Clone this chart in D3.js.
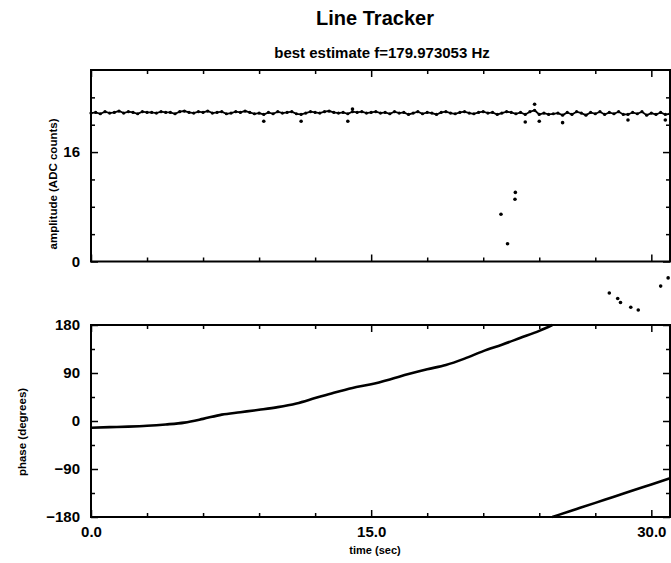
<!DOCTYPE html>
<html>

<head>
    <script src="https://d3js.org/d3.v7.min.js"></script>
    <style>
        body { margin: 0; background: #fff; }
        text { font-family: "Liberation Sans", Arial, sans-serif; font-weight: bold; fill: #000; }
    </style>
</head>

<body>
    <div id="my_dataviz"></div>

    <script>
        // amplitude samples, one every 0.25 s starting at t = 0
        const ampStep = 0.25;
        const ampValues = [
            21.7, 21.8, 21.6, 21.9, 21.7, 21.8, 22.0, 21.7, 21.9, 21.8,
            21.6, 21.9, 21.8, 21.8, 21.7, 21.9, 21.8, 21.8, 21.6, 21.9,
            22.0, 21.8, 21.7, 21.9, 21.8, 22.0, 21.7, 21.8, 21.9, 21.6,
            21.7, 21.9, 21.8, 22.0, 21.8, 21.6, 21.7, 21.5, 21.8, 21.6,
            21.9, 21.7, 21.8, 21.9, 21.6, 21.5, 21.7, 21.9, 21.8, 21.7,
            21.9, 22.0, 21.8, 21.7, 21.8, 21.6, 21.9, 21.8, 21.9, 21.7,
            21.8, 21.9, 21.7, 21.8, 21.6, 21.9, 21.7, 21.8, 21.5, 21.7,
            21.9, 21.6, 21.8, 21.7, 21.5, 21.8, 21.9, 21.7, 21.6, 21.8,
            21.9, 21.7, 21.6, 21.8, 21.9, 21.7, 21.8, 21.5, 21.7, 21.9,
            21.8, 21.6, 21.8, 21.5, 21.9, 22.1, 21.5, 21.7, 21.5, 21.6,
            21.7, 21.4, 21.8, 21.5, 21.9, 21.7, 21.4, 21.8, 21.6, 21.9,
            21.5, 21.8, 21.6, 21.9, 21.5, 21.5, 21.8, 21.6, 21.9, 21.4,
            21.7, 21.5, 21.8, 21.5, 21.6
        ];

        // single samples that sit off the trace
        const dropTime = [9.25, 11.25, 13.75, 14.0, 23.25, 23.75, 24.0, 25.25, 28.75, 30.75];
        const dropAmp = [20.5, 20.5, 20.5, 22.3, 20.4, 23.0, 20.5, 20.3, 20.7, 20.7];

        // isolated amplitude points (dropouts near 22 s)
        const glitchTime = [21.95, 22.3, 22.7, 22.72];
        const glitchAmp = [6.9, 2.6, 9.1, 10.1];

        // stray points that fall below the amplitude axis
        const strayTime = [27.75, 28.2, 28.35, 28.9, 29.3, 30.5, 30.9];
        const strayAmp = [-4.6, -5.4, -6.0, -6.7, -7.1, -3.6, -2.4];

        // phase, before and after wrapping through 180 degrees
        const phaseTimeA = [0, 1, 2, 3, 4, 5, 6, 7, 8, 9, 10, 11, 12, 13, 14, 15, 16, 17, 18, 19, 20, 21, 22, 23, 24, 24.7];
        const phaseDegA = [-12.6, -11.5, -10.5, -9, -6.5, -3, 4, 12, 16.5, 21, 26, 33, 43, 53, 62, 69, 78, 88, 97, 105, 117, 131, 143, 156, 169, 180];
        const phaseTimeB = [24.7, 25, 26, 27, 28, 29, 30, 31];
        const phaseDegB = [-180, -176.5, -165, -153.5, -142, -130.5, -119, -107.5];

        // tick values
        const timeMajor = [0, 15, 30];
        const timeMinor = [3, 6, 9, 12, 18, 21, 24, 27];
        const ampMajor = [0, 16];
        const ampMinor = [4, 8, 12, 20, 24];
        const phaseMajor = [-180, -90, 0, 90, 180];
        const phaseMinor = [-135, -45, 45, 135];

        const W = 671, H = 563;
        const left = 91, right = 670;
        const top1 = 70, bottom1 = 261.5;
        const top2 = 325, bottom2 = 517;

        const svg = d3.select("#my_dataviz")
            .append("svg")
            .attr("width", W)
            .attr("height", H);

        const x = d3.scaleLinear().domain([0, 31]).range([left, right]);
        const yAmp = d3.scaleLinear().domain([0, 28]).range([bottom1, top1]);
        const yPh = d3.scaleLinear().domain([-180, 180]).range([bottom2, top2]);

        // titles
        svg.append("text")
            .attr("x", 375).attr("y", 25)
            .attr("text-anchor", "middle")
            .style("font-size", "20px")
            .text("Line Tracker");

        svg.append("text")
            .attr("x", 382).attr("y", 58)
            .attr("text-anchor", "middle")
            .style("font-size", "15px")
            .text("best estimate f=179.973053 Hz");

        // draws the frame and inward ticks of one panel
        function frame(y, top, bottom, major, minor, labels) {
            const g = svg.append("g");
            const tickStyle = sel => {
                sel.select(".domain").remove();
                sel.selectAll("line").attr("stroke", "#000").attr("stroke-width", 1.5);
            };
            // bottom and top ticks
            g.append("g").attr("transform", `translate(0,${bottom})`)
                .call(d3.axisBottom(x).tickValues(timeMinor).tickSize(-4).tickFormat(""))
                .call(tickStyle);
            const xb = g.append("g").attr("transform", `translate(0,${bottom})`)
                .call(d3.axisBottom(x).tickValues(timeMajor).tickSize(-7).tickPadding(9)
                    .tickFormat(labels ? d3.format(".1f") : ""))
                .call(tickStyle);
            xb.selectAll("text").style("font-size", "15px");
            g.append("g").attr("transform", `translate(0,${top})`)
                .call(d3.axisTop(x).tickValues(timeMinor).tickSize(-4).tickFormat(""))
                .call(tickStyle);
            g.append("g").attr("transform", `translate(0,${top})`)
                .call(d3.axisTop(x).tickValues(timeMajor).tickSize(-7).tickFormat(""))
                .call(tickStyle);
            // left and right ticks
            g.append("g").attr("transform", `translate(${left},0)`)
                .call(d3.axisLeft(y).tickValues(minor).tickSize(-4).tickFormat(""))
                .call(tickStyle);
            const yl = g.append("g").attr("transform", `translate(${left},0)`)
                .call(d3.axisLeft(y).tickValues(major).tickSize(-7).tickPadding(11)
                    .tickFormat(d => d < 0 ? "\u2212" + Math.abs(d) : d))
                .call(tickStyle);
            yl.selectAll("text").style("font-size", "15px");
            g.append("g").attr("transform", `translate(${right},0)`)
                .call(d3.axisRight(y).tickValues(minor).tickSize(-4).tickFormat(""))
                .call(tickStyle);
            g.append("g").attr("transform", `translate(${right},0)`)
                .call(d3.axisRight(y).tickValues(major).tickSize(-7).tickFormat(""))
                .call(tickStyle);
            // box
            g.append("rect")
                .attr("x", left).attr("y", top)
                .attr("width", right - left).attr("height", bottom - top)
                .attr("fill", "none")
                .attr("stroke", "#000")
                .attr("stroke-width", 2);
        }

        frame(yAmp, top1, bottom1, ampMajor, ampMinor, false);
        frame(yPh, top2, bottom2, phaseMajor, phaseMinor, true);

        // axis titles
        svg.append("text")
            .attr("transform", "translate(57,184) rotate(-90)")
            .attr("text-anchor", "middle")
            .style("font-size", "11.5px")
            .text("amplitude (ADC counts)");

        svg.append("text")
            .attr("transform", "translate(26,432) rotate(-90)")
            .attr("text-anchor", "middle")
            .style("font-size", "11.5px")
            .text("phase (degrees)");

        svg.append("text")
            .attr("x", 375).attr("y", 554)
            .attr("text-anchor", "middle")
            .style("font-size", "11px")
            .text("time (sec)");

        // amplitude trace
        const ampData = ampValues.map((v, i) => ({ t: i * ampStep, v: v }));

        svg.append("path")
            .datum(ampData)
            .attr("fill", "none")
            .attr("stroke", "#000")
            .attr("stroke-width", 1.8)
            .attr("d", d3.line()
                .x(d => x(d.t))
                .y(d => yAmp(d.v)));

        svg.append("g")
            .selectAll("circle")
            .data(ampData)
            .join("circle")
            .attr("cx", d => x(d.t))
            .attr("cy", d => yAmp(d.v))
            .attr("r", 1.6)
            .attr("fill", "#000");

        const loose = dropTime.map((t, i) => ({ t: t, v: dropAmp[i] }))
            .concat(glitchTime.map((t, i) => ({ t: t, v: glitchAmp[i] })))
            .concat(strayTime.map((t, i) => ({ t: t, v: strayAmp[i] })));

        svg.append("g")
            .selectAll("circle")
            .data(loose)
            .join("circle")
            .attr("cx", d => x(d.t))
            .attr("cy", d => yAmp(d.v))
            .attr("r", 1.8)
            .attr("fill", "#000");

        // phase trace, one path per branch
        const phaseLine = d3.line()
            .x(d => x(d.t))
            .y(d => yPh(d.p))
            .curve(d3.curveMonotoneX);

        [[phaseTimeA, phaseDegA], [phaseTimeB, phaseDegB]].forEach(([ts, ps]) => {
            svg.append("path")
                .datum(ts.map((t, i) => ({ t: t, p: ps[i] })))
                .attr("fill", "none")
                .attr("stroke", "#000")
                .attr("stroke-width", 2.6)
                .attr("d", phaseLine);
        });
    </script>
</body>

</html>
